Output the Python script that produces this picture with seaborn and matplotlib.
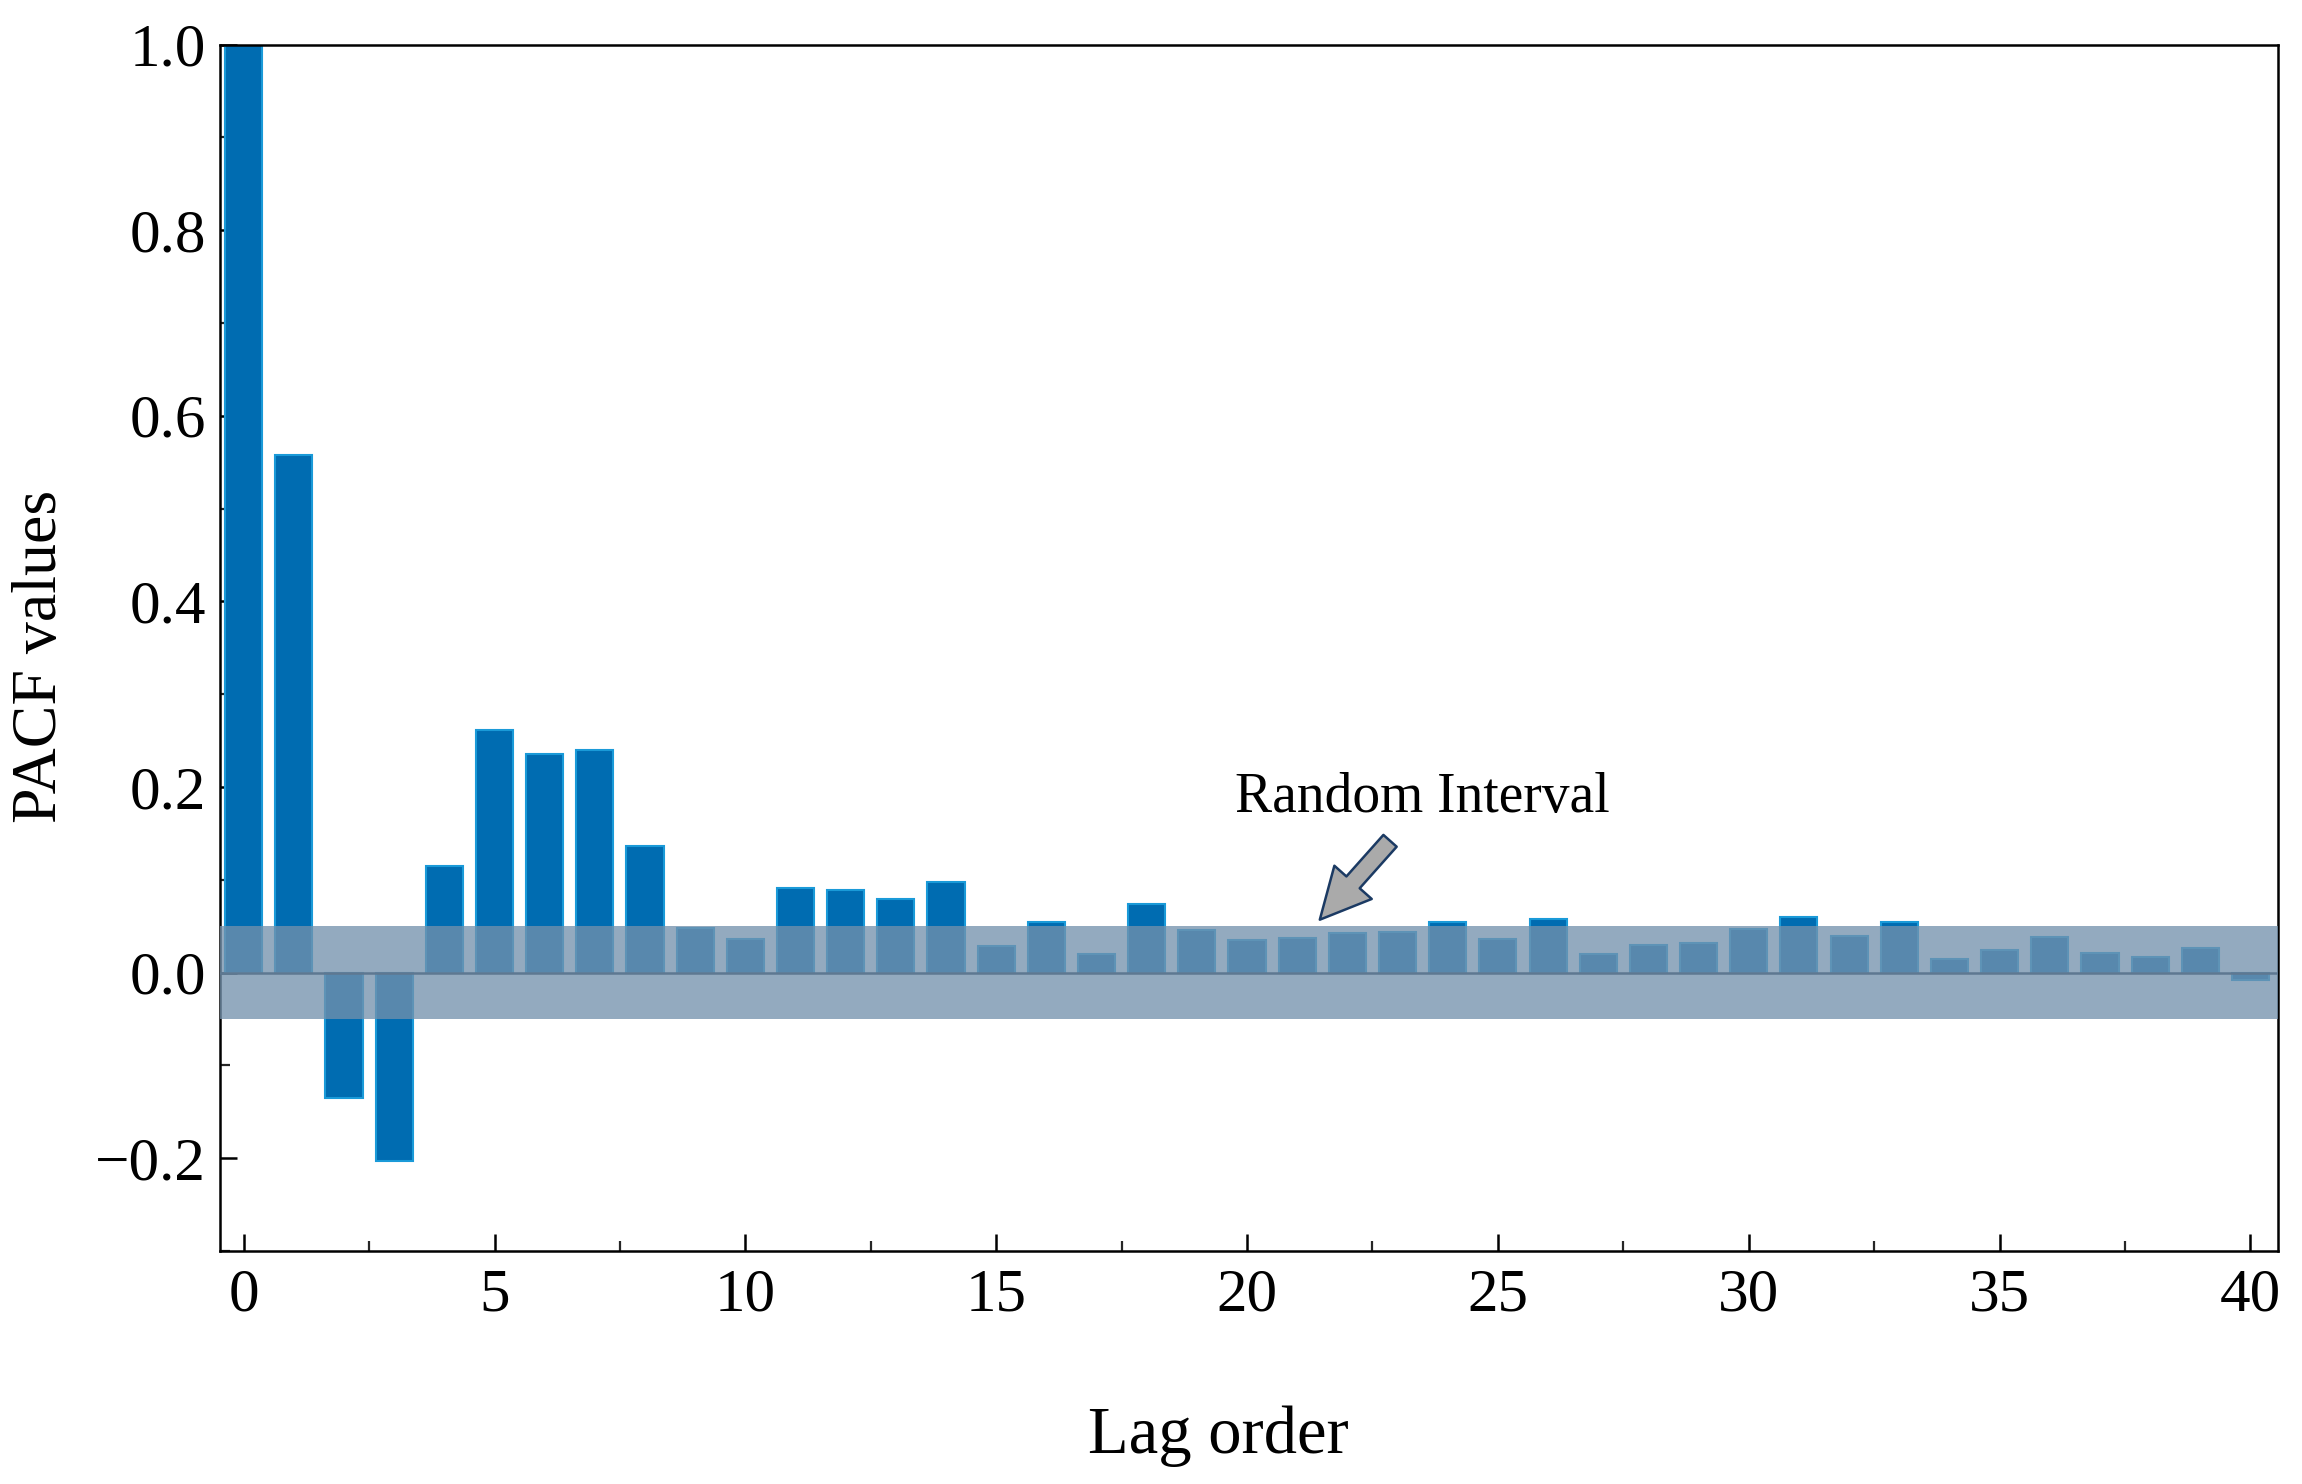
import numpy as np
import pandas as pd
import matplotlib
matplotlib.use("Agg")
import matplotlib.pyplot as plt
from matplotlib.ticker import MultipleLocator, FixedLocator
import seaborn as sns

# ---- data ----
lags = list(range(41))
pacf_values = [1.0, 0.558, -0.135, -0.203, 0.115, 0.261, 0.236, 0.240, 0.136, 0.048,
               0.036, 0.091, 0.089, 0.079, 0.098, 0.029, 0.054, 0.020, 0.074, 0.046,
               0.035, 0.037, 0.043, 0.044, 0.054, 0.036, 0.058, 0.020, 0.030, 0.032,
               0.047, 0.060, 0.039, 0.054, 0.015, 0.024, 0.038, 0.021, 0.017, 0.027,
               -0.0085]
conf_bound = 0.05
x_ticks = [0, 5, 10, 15, 20, 25, 30, 35, 40]
y_ticks = [-0.2, 0.0, 0.2, 0.4, 0.6, 0.8, 1.0]
y_tick_labels = ["\u22120.2", "0.0", "0.2", "0.4", "0.6", "0.8", "1.0"]

df = pd.DataFrame({"lag": lags, "pacf": pacf_values})

sns.set_theme(style="white")
plt.rcParams["font.family"] = ["Liberation Serif", "DejaVu Serif"]
plt.rcParams["axes.unicode_minus"] = True

fig = plt.figure(figsize=(23.02, 14.84), dpi=100)
ax = fig.add_axes([0.0956, 0.157, 0.894, 0.813])

sns.barplot(data=df, x="lag", y="pacf", native_scale=True, width=0.74,
            color="#006CB1", saturation=1, edgecolor="#1A9AD8", linewidth=1.5,
            ax=ax, zorder=2)

ax.axhspan(-conf_bound, conf_bound, color="#7391AC", alpha=0.77, lw=0, zorder=3)
ax.axhline(0, color="#5E7891", lw=1.8, zorder=4)

ax.set_xlim(-0.47, 40.55)
ax.set_ylim(-0.3, 1.0)

ax.xaxis.set_major_locator(FixedLocator(x_ticks))
ax.xaxis.set_minor_locator(MultipleLocator(2.5))
ax.set_xticklabels([str(t) for t in x_ticks])
ax.yaxis.set_major_locator(FixedLocator(y_ticks))
ax.yaxis.set_minor_locator(MultipleLocator(0.1))
ax.set_yticklabels(y_tick_labels)

ax.tick_params(axis="both", which="major", direction="in", length=12, width=1.8,
               labelsize=44, colors="black", bottom=True, left=True, top=False, right=False)
ax.tick_params(axis="x", which="major", pad=12)
ax.tick_params(axis="y", which="major", pad=10)
ax.tick_params(axis="both", which="minor", direction="in", length=7, width=1.6,
               bottom=True, left=True, top=False, right=False)

for s in ax.spines.values():
    s.set_visible(True)
    s.set_color("black")
    s.set_linewidth(1.8)

ax.set_xlabel("Lag order", fontsize=48, color="black")
ax.set_ylabel("PACF values", fontsize=46, color="black")
ax.xaxis.set_label_coords(0.485, -0.128)
ax.yaxis.set_label_coords(-0.073, 0.493)

ax.annotate("", xy=(21.45, 0.057), xytext=(22.85, 0.142),
            arrowprops=dict(arrowstyle="simple,head_length=0.9,head_width=0.9,tail_width=0.32",
                            fc="#AAAAAA", ec="#1B3A63", lw=1.8, mutation_scale=40,
                            shrinkA=0, shrinkB=0),
            zorder=6)
ax.text(23.5, 0.188, "Random Interval", fontsize=40, ha="center", va="center",
        color="black", zorder=6)

fig.savefig("out.png", dpi=100)
